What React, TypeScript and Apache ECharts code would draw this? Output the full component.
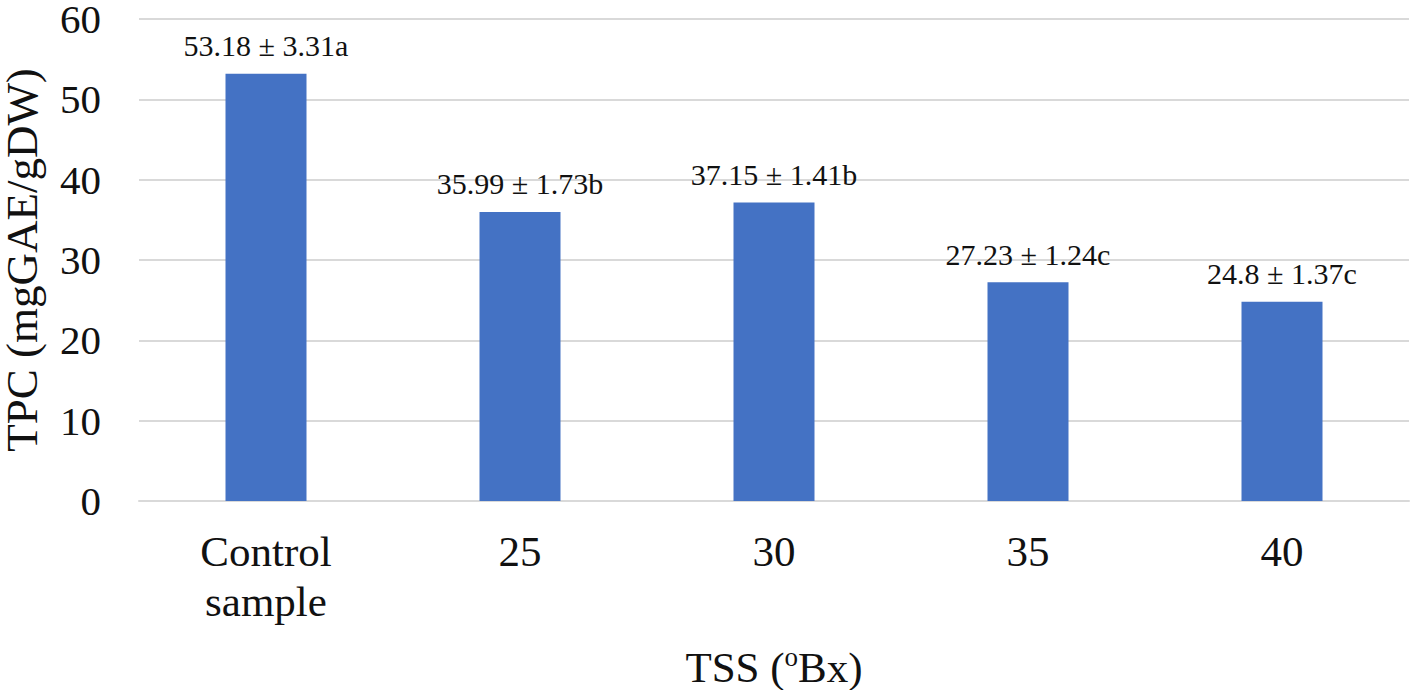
import React, { useEffect, useRef } from "react";
import * as echarts from "echarts";

const categories = ["Control\nsample", "25", "30", "35", "40"];
const meanValues = [53.18, 35.99, 37.15, 27.23, 24.8];
const sdValues = [3.31, 1.73, 1.41, 1.24, 1.37];
const letters = ["a", "b", "b", "c", "c"];
const yTicks = { min: 0, max: 60, interval: 10 };

const FONT = "Liberation Serif";

export default function App() {
  const ref = useRef<HTMLDivElement>(null);
  useEffect(() => {
    if (!ref.current) return;
    const chart = echarts.init(ref.current, undefined, { renderer: "svg" });
    const labels = meanValues.map((v, i) => `${v} ± ${sdValues[i]}${letters[i]}`);
    chart.setOption({
      animation: false,
      backgroundColor: "#ffffff",
      grid: { left: 139, right: 5, top: 19, bottom: 189, containLabel: false, outerBoundsMode: "none" },
      xAxis: {
        type: "category",
        data: categories,
        name: "TSS ({sup|o}Bx)",
        nameLocation: "middle",
        nameGap: 142,
        nameTextStyle: {
          fontFamily: FONT,
          fontSize: 43,
          color: "#111",
          lineHeight: 48,
          rich: {
            sup: { fontFamily: FONT, fontSize: 27, color: "#111", verticalAlign: "top", lineHeight: 30 },
          },
        },
        axisLine: { show: true, lineStyle: { color: "#d9d9d9", width: 2 } },
        axisTick: { show: false },
        axisLabel: {
          fontFamily: FONT,
          fontSize: 43,
          color: "#111",
          lineHeight: 50,
          margin: 25,
          verticalAlign: "top",
        },
      },
      yAxis: {
        type: "value",
        min: yTicks.min,
        max: yTicks.max,
        interval: yTicks.interval,
        name: "TPC (mgGAE/gDW)",
        nameLocation: "middle",
        nameGap: 95,
        nameTextStyle: { fontFamily: FONT, fontSize: 45, color: "#111" },
        axisLine: { show: false },
        axisTick: { show: false },
        axisLabel: { fontFamily: FONT, fontSize: 41, lineHeight: 36, color: "#111", margin: 38 },
        splitLine: { show: true, lineStyle: { color: "#d9d9d9", width: 2 } },
      },
      series: [
        {
          type: "bar",
          data: meanValues,
          barWidth: 81,
          itemStyle: { color: "#4472C4" },
          label: {
            show: true,
            position: "top",
            distance: 13,
            fontFamily: FONT,
            fontSize: 30,
            color: "#111",
            formatter: (p: any) => labels[p.dataIndex],
          },
        },
      ],
    });
    return () => chart.dispose();
  }, []);
  return (
    <div
      ref={ref}
      style={{ position: "fixed", left: 0, top: 0, width: 1414, height: 690, background: "#fff" }}
    />
  );
}
